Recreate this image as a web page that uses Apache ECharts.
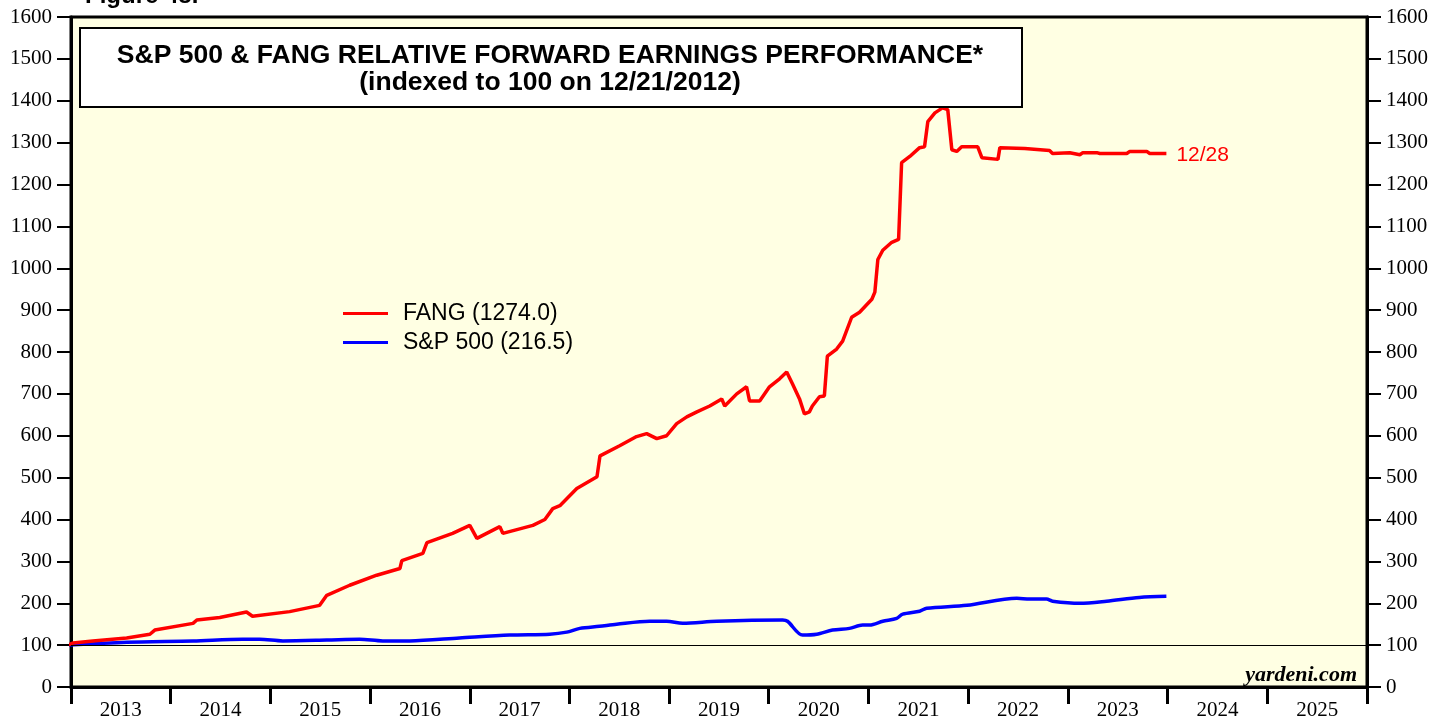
<!DOCTYPE html>
<html>
<head>
<meta charset="utf-8">
<script src="https://cdn.jsdelivr.net/npm/echarts@6/dist/echarts.min.js"></script>
<style>
  html, body { margin: 0; padding: 0; background: #fff; }
  #chart { width: 1448px; height: 721px; }
</style>
</head>
<body>
<div id="chart"></div>
<script>
// values (weekly data, indexed to 100 on 12/21/2012)
const fangDates = ['2012-12-21','2013-01-08','2013-03-22','2013-07-24','2013-10-17','2013-11-04','2014-03-24','2014-04-07','2014-06-30','2014-10-06','2014-10-28','2015-03-13','2015-07-01','2015-07-27','2015-10-19','2016-01-26','2016-04-20','2016-04-27','2016-07-13','2016-07-28','2016-10-30','2017-01-01','2017-01-27','2017-04-21','2017-05-02','2017-08-20','2017-10-03','2017-11-01','2017-11-27','2018-01-28','2018-04-12','2018-04-23','2018-07-04','2018-09-04','2018-10-11','2018-11-17','2018-12-23','2019-01-29','2019-03-07','2019-04-13','2019-05-30','2019-07-13','2019-07-24','2019-09-06','2019-10-12','2019-10-23','2019-11-29','2020-01-04','2020-02-10','2020-03-07','2020-03-28','2020-04-23','2020-05-11','2020-05-29','2020-06-09','2020-07-05','2020-07-23','2020-08-03','2020-09-06','2020-09-28','2020-10-31','2020-11-29','2021-01-13','2021-01-24','2021-02-04','2021-02-22','2021-03-27','2021-04-21','2021-05-02','2021-06-01','2021-07-07','2021-07-25','2021-08-06','2021-09-01','2021-09-29','2021-10-18','2021-11-02','2021-11-20','2021-12-08','2022-02-05','2022-02-20','2022-04-20','2022-04-27','2022-07-27','2022-10-26','2022-11-06','2023-01-08','2023-02-14','2023-02-25','2023-04-17','2023-04-28','2023-08-05','2023-08-16','2023-10-17','2023-10-28','2023-12-28']
const fangValues = [100,105,110,117,126,136,152,160,166,179,169,180,195,219,243,267,283,302,319,345,367,386,355,383,367,386,400,426,433,474,502,552,576,598,605,593,600,629,645,657,671,688,671,700,717,683,683,717,736,752,724,688,652,657,671,693,695,790,807,826,883,895,926,943,1021,1043,1062,1069,1252,1267,1288,1290,1350,1371,1383,1379,1283,1279,1290,1290,1264,1260,1288,1286,1281,1274,1276,1271,1276,1276,1274,1274,1279,1279,1274,1274.0]

const spxDates = ['2012-12-21','2013-07-24','2014-03-24','2014-09-22','2014-11-23','2015-02-16','2015-07-27','2015-11-24','2016-02-17','2016-05-26','2016-11-24','2017-05-27','2017-10-21','2017-12-22','2018-02-08','2018-04-21','2018-06-23','2018-10-22','2018-12-23','2019-02-20','2019-06-25','2020-02-21','2020-03-10','2020-05-04','2020-06-25','2020-08-22','2020-10-23','2020-12-10','2021-01-05','2021-02-22','2021-04-14','2021-05-06','2021-07-07','2021-08-02','2021-12-27','2022-06-28','2022-08-14','2022-10-15','2022-11-06','2023-02-14','2023-05-23','2023-09-20','2023-12-28']
const spxValues = [100,107,110,114,114,110,112,114,110,110,117,124,126,131,140,145,150,157,157,152,157,160,157,124,126,136,140,148,148,157,164,174,181,188,195,212,210,210,205,200,205,214,216.5]

const yearLabels = ['2013','2014','2015','2016','2017','2018','2019','2020','2021','2022','2023','2024','2025']

const serif = 'Liberation Serif'
const sans = 'Liberation Sans'

let chart = echarts.init(document.getElementById('chart'))

let fangData = fangDates.map((d, i) => [d, fangValues[i]])
let spxData = spxDates.map((d, i) => [d, spxValues[i]])

let yAxisCommon = {
  type: 'value',
  min: 0,
  max: 1600,
  interval: 100,
  splitLine: { show: false },
  axisLine: { show: true, lineStyle: { color: '#000', width: 3 } },
  axisTick: { show: true, length: 14, lineStyle: { color: '#000', width: 2 } },
  axisLabel: {
    color: '#000', fontFamily: serif, fontSize: 21, margin: 19,
    formatter: function (v) { return String(v) }
  }
}

let option = {
  animation: false,
  backgroundColor: '#fff',
  grid: {
    left: 71, right: 81, top: 17, bottom: 32,
    show: true,
    backgroundColor: '#FFFFE3',
    borderColor: '#000',
    borderWidth: 3
  },
  legend: {
    left: 343,
    top: 302,
    padding: 0,
    orient: 'vertical',
    itemWidth: 45,
    itemHeight: 3,
    itemGap: 6,
    icon: 'rect',
    textStyle: { color: '#000', fontFamily: sans, fontSize: 23, padding: [0, 0, 0, 10] },
    formatter: function (name) {
      return name === 'FANG' ? 'FANG (' + fangValues[fangValues.length - 1].toFixed(1) + ')'
        : 'S&P 500 (' + spxValues[spxValues.length - 1].toFixed(1) + ')'
    },
    data: ['FANG', 'S&P 500']
  },
  xAxis: [
    {
      type: 'time',
      min: '2013-01-01',
      max: '2026-01-01',
      minInterval: 365 * 24 * 3600 * 1000,
      maxInterval: 366 * 24 * 3600 * 1000,
      splitLine: { show: false },
      axisLine: { show: true, lineStyle: { color: '#000', width: 3 } },
      axisTick: { show: true, length: 17, lineStyle: { color: '#000', width: 3 } },
      axisLabel: { show: false }
    },
    {
      type: 'category',
      position: 'bottom',
      data: yearLabels,
      boundaryGap: true,
      axisLine: { show: false },
      axisTick: { show: false },
      axisLabel: { color: '#000', fontFamily: serif, fontSize: 21, margin: 13 }
    }
  ],
  yAxis: [
    Object.assign({ position: 'left' }, yAxisCommon),
    Object.assign({ position: 'right' }, yAxisCommon)
  ],
  series: [
    {
      name: 'S&P 500',
      type: 'line',
      data: spxData,
      showSymbol: false,
      smooth: 0.3,
      color: '#0000FF',
      lineStyle: { width: 3.5, color: '#0000FF' },
      markLine: {
        silent: true,
        symbol: 'none',
        label: { show: false },
        lineStyle: { color: '#000', width: 1, type: 'solid' },
        data: [{ yAxis: 100 }]
      },
      z: 3
    },
    {
      name: 'FANG',
      type: 'line',
      data: fangData,
      showSymbol: false,
      color: '#FF0000',
      lineStyle: { width: 3.5, color: '#FF0000' },
      endLabel: {
        show: true,
        formatter: '12/28',
        color: '#FF0000',
        fontFamily: sans,
        fontSize: 21,
        distance: 10,
        offset: [0, 2]
      },
      z: 4
    }
  ],
  graphic: [
    {
      type: 'text',
      left: 85,
      top: -16,
      style: { text: 'Figure 48.', fill: '#000', font: 'bold 24px "Liberation Sans"' }
    },
    {
      type: 'rect',
      left: 79,
      top: 27,
      shape: { width: 942, height: 79 },
      style: { fill: '#fff', stroke: '#000', lineWidth: 2 },
      z: 10
    },
    {
      type: 'text',
      x: 550,
      y: 56,
      style: {
        text: 'S&P 500 & FANG RELATIVE FORWARD EARNINGS PERFORMANCE*',
        fill: '#000', font: 'bold 26.5px "Liberation Sans"',
        align: 'center', verticalAlign: 'middle'
      },
      z: 11
    },
    {
      type: 'text',
      x: 550,
      y: 83,
      style: {
        text: '(indexed to 100 on 12/21/2012)',
        fill: '#000', font: 'bold 26.5px "Liberation Sans"',
        align: 'center', verticalAlign: 'middle'
      },
      z: 11
    },
    {
      type: 'text',
      x: 1357,
      y: 675,
      style: {
        text: 'yardeni.com',
        fill: '#000', font: 'italic bold 22px "Liberation Serif"',
        align: 'right', verticalAlign: 'middle'
      },
      z: 11
    }
  ]
}

chart.setOption(option)
</script>
</body>
</html>
